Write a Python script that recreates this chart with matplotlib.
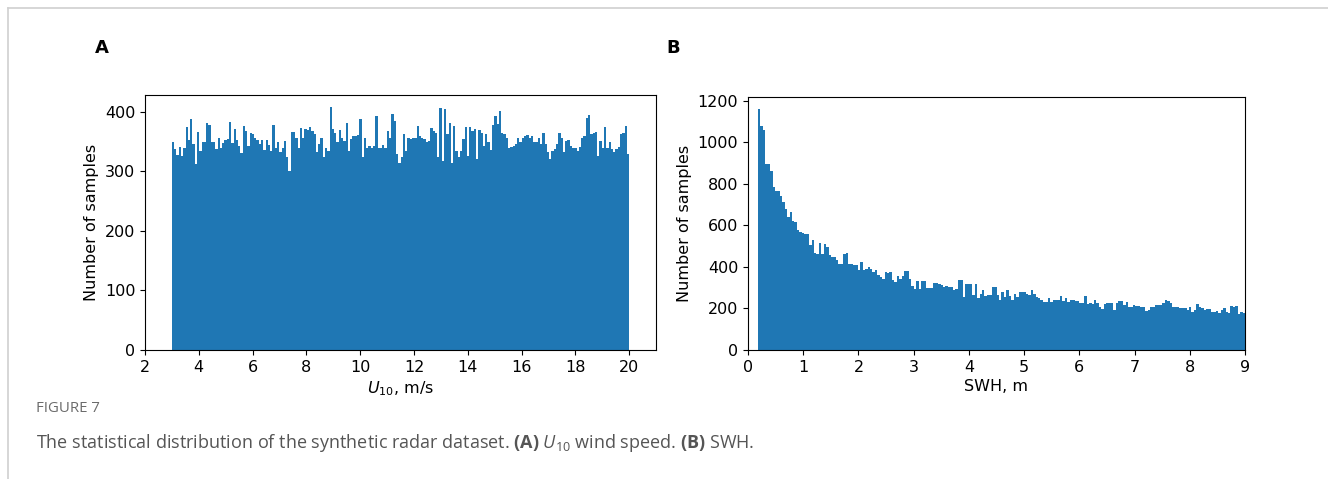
import numpy as np
import matplotlib
matplotlib.use("Agg")
import matplotlib.pyplot as plt
from matplotlib.lines import Line2D

# --- data (200 bins per histogram) ---
u10_range = (3.0, 20.0)
u10_counts = [
    349, 338, 328, 341, 326, 340, 374, 353, 388, 346,
    313, 367, 335, 349, 349, 382, 378, 350, 350, 338,
    357, 339, 347, 353, 354, 383, 347, 372, 353, 342,
    331, 376, 368, 342, 364, 363, 357, 352, 346, 353,
    336, 352, 345, 335, 378, 339, 350, 332, 339, 351,
    325, 300, 366, 367, 357, 340, 373, 357, 372, 369,
    374, 368, 363, 332, 346, 357, 324, 340, 335, 408,
    371, 365, 349, 370, 357, 351, 382, 335, 354, 360,
    360, 361, 388, 324, 357, 340, 343, 339, 343, 393,
    340, 339, 344, 340, 368, 357, 396, 385, 329, 315,
    324, 363, 335, 356, 354, 356, 357, 376, 360, 357,
    354, 349, 351, 373, 368, 365, 324, 407, 318, 405,
    363, 382, 315, 377, 335, 324, 335, 354, 374, 326,
    374, 368, 371,
    321, 369, 365, 343, 363, 349, 336, 378, 393,
    380, 402, 365, 363, 357, 339, 341, 343, 346, 356,
    349, 357, 360, 361, 357, 360, 349, 349, 356, 346,
    365, 346, 332, 321, 335, 337, 346, 365, 357, 332,
    351, 352, 343, 339, 340, 335, 341, 357, 360, 389,
    395, 363, 365, 367, 326, 351, 339, 375, 339, 350,
    337, 332, 337, 341, 363, 365, 377, 329,
]

swh_range = (0.18, 9.0)
swh_counts = [
    1160, 1077, 1059, 896, 896, 864, 784, 765, 765, 739,
    712, 680, 640, 664, 619, 616, 576, 568, 563, 560,
    560, 504, 531, 467, 464, 515, 464, 512, 496, 456,
    448, 448, 432, 416, 416, 464, 467, 413, 416, 408,
    408, 384,
    424, 384, 392, 400, 392, 376, 384, 360, 352, 341,
    376, 371, 376, 336, 328, 355, 341, 355, 379, 379,
    341, 307, 296, 331, 296, 331, 331, 299, 299, 299,
    323, 323, 320, 312, 301, 307, 304, 304, 288, 296,
    336, 339, 256, 317, 320, 317, 264, 320, 248, 272,
    291, 259, 264,
    264, 301, 301, 264, 243, 280, 256, 288, 259, 240,
    272, 256, 280, 280, 277, 272, 264, 291, 272, 256,
    248, 240, 232, 232, 248, 232, 240, 240, 243, 259,
    237, 248, 232, 240, 240, 237, 237, 224, 224, 259,
    221, 224, 221, 243, 227, 208, 195, 221, 227,
    227, 227, 192, 224, 237, 237, 216, 232, 208, 208,
    216, 213, 213, 208, 208, 189, 192, 205, 208, 216,
    219, 216, 224, 243, 237, 224, 208, 208, 205, 200,
    200, 200, 192, 208, 184, 192, 221, 208, 200, 192,
    195, 195, 184, 184, 189, 179, 192, 200, 184, 179,
    211, 208, 211, 173, 184, 176,
]

u10_ticks = list(range(2, 21, 2))
swh_ticks = list(range(0, 10))

plt.rcParams["mathtext.fontset"] = "dejavusans"
plt.rcParams["mathtext.rm"] = "Open Sans"
plt.rcParams["mathtext.it"] = "Open Sans:italic"
plt.rcParams["mathtext.bf"] = "Open Sans:bold"

W, H = 1328, 479
fig = plt.figure(figsize=(W / 100, H / 100), dpi=100)

blue = "#1f77b4"
fs = 11.5


def hist_panel(rect, counts, rng, ticks, xlim, xlabel):
    ax = fig.add_axes(rect)
    edges = np.linspace(rng[0], rng[1], len(counts) + 1)
    centers = 0.5 * (edges[:-1] + edges[1:])
    # one filled outline, so no white seams between neighbouring bins
    ax.hist(centers, bins=edges, weights=counts, color=blue,
            histtype="stepfilled", linewidth=0)
    ax.set_xlim(*xlim)
    ax.set_xticks(ticks)
    ax.set_xlabel(xlabel, fontsize=fs, labelpad=3)
    ax.set_ylabel("Number of samples", fontsize=fs, labelpad=4)
    ax.tick_params(labelsize=fs)
    return ax


ax1 = hist_panel([145 / W, 1 - 350 / H, (656 - 145) / W, (350 - 95) / H],
                 u10_counts, u10_range, u10_ticks, (2, 21), r"$U_{10}$, m/s")
ax2 = hist_panel([748 / W, 1 - 350 / H, (1245 - 748) / W, (350 - 97) / H],
                 swh_counts, swh_range, swh_ticks, (0, 9), "SWH, m")

# panel letters
fig.text(102 / W, 1 - 48 / H, "A", fontsize=13, fontweight="bold", ha="center", va="center")
fig.text(673 / W, 1 - 48 / H, "B", fontsize=13, fontweight="bold", ha="center", va="center")

# caption
fig.text(36 / W, 1 - 409 / H, "FIGURE 7", fontsize=10.8, color="#6b6b6b",
         family="Open Sans", va="center")
fig.text(36 / W, 1 - 443 / H,
         r"The statistical distribution of the synthetic radar dataset. $\mathbf{(A)}$ "
         r"$\mathit{U}_{10}$ wind speed. $\mathbf{(B)}$ SWH.",
         fontsize=13, color="#555555", family="Open Sans", va="center",
         math_fontfamily="custom")

# page frame lines
fig.add_artist(Line2D([8 / W, 1], [1 - 8 / H, 1 - 8 / H], color="#d0d0d0", lw=1.2,
                      transform=fig.transFigure))
fig.add_artist(Line2D([8 / W, 8 / W], [0, 1 - 8 / H], color="#d0d0d0", lw=1.2,
                      transform=fig.transFigure))

fig.savefig("out.png", dpi=100)
